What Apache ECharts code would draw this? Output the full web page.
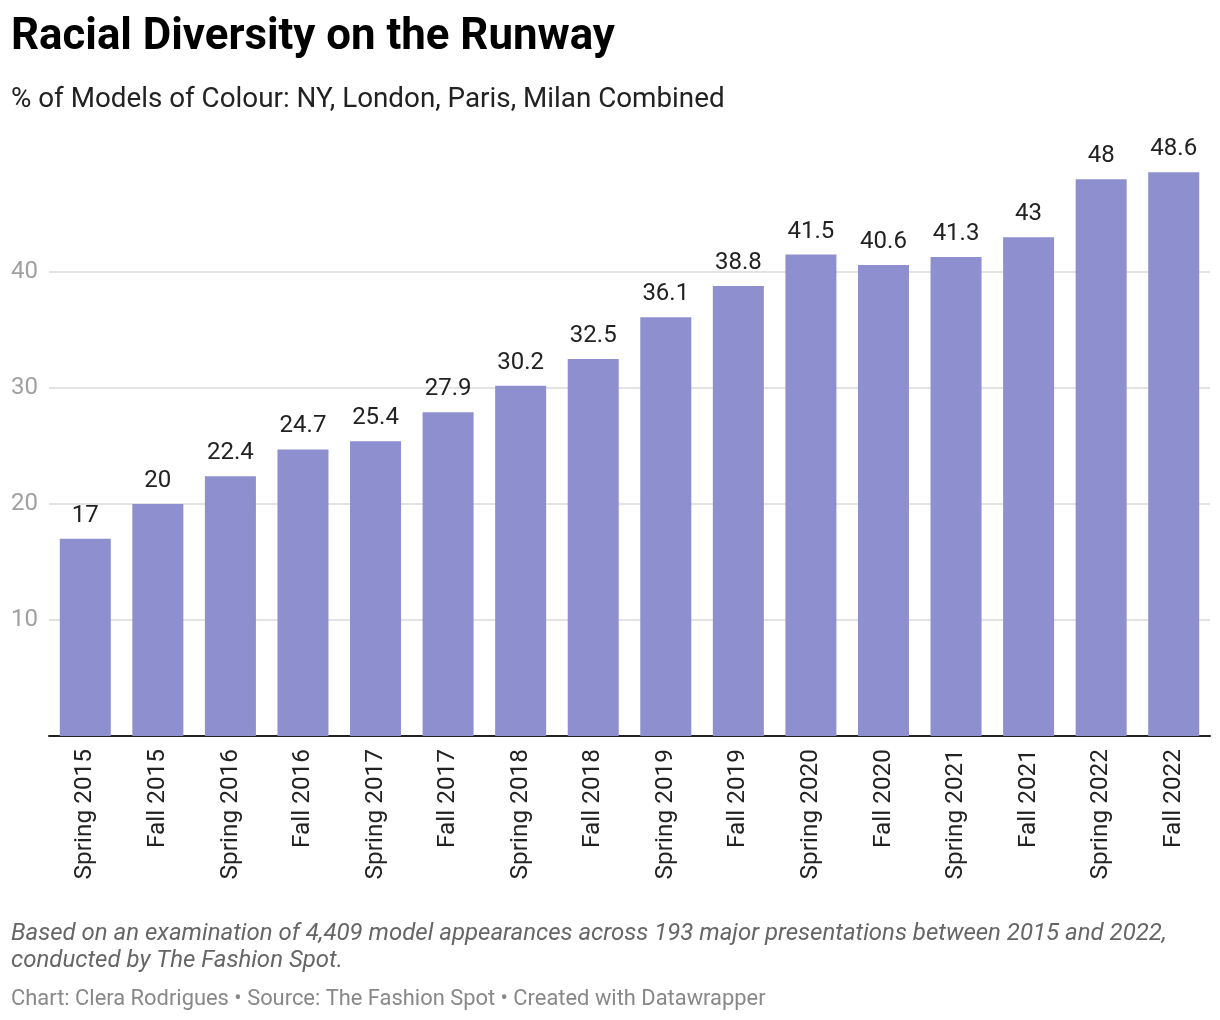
<!DOCTYPE html>
<html><head><meta charset="utf-8">
<script src="https://cdn.jsdelivr.net/npm/echarts@6/dist/echarts.min.js"></script>
<style>html,body{margin:0;padding:0;background:#fff}#c{width:1220px;height:1020px}</style>
</head><body><div id="c"></div>
<script>
const categories = ["Spring 2015","Fall 2015","Spring 2016","Fall 2016","Spring 2017","Fall 2017","Spring 2018","Fall 2018","Spring 2019","Fall 2019","Spring 2020","Fall 2020","Spring 2021","Fall 2021","Spring 2022","Fall 2022"];
const values = [17,20,22.4,24.7,25.4,27.9,30.2,32.5,36.1,38.8,41.5,40.6,41.3,43,48,48.6];
const titleText = "Racial Diversity on the Runway";
const subtitleText = "% of Models of Colour: NY, London, Paris, Milan Combined";
const noteLines = ["Based on an examination of 4,409 model appearances across 193 major presentations between 2015 and 2022,","conducted by The Fashion Spot."];
const creditText = "Chart: Clera Rodrigues • Source: The Fashion Spot • Created with Datawrapper";

const chart = echarts.init(document.getElementById('c'));
chart.setOption({
  backgroundColor:'#fff',
  textStyle:{fontFamily:'Roboto'},
  title:[
    {text:titleText,left:11,top:16,padding:0,textStyle:{fontFamily:'Roboto',fontWeight:'bold',fontSize:43.8,color:'#000'}},
    {text:subtitleText,left:11,top:86,padding:0,textStyle:{fontFamily:'Roboto',fontWeight:'normal',fontSize:27.8,color:'#222'}},
    {text:noteLines.join('\n'),left:11,top:921,padding:0,textStyle:{fontFamily:'Roboto',fontStyle:'italic',fontWeight:'normal',fontSize:24,lineHeight:26.5,color:'#666'}},
    {text:creditText,left:11,top:989,padding:0,textStyle:{fontFamily:'Roboto',fontWeight:'normal',fontSize:21.9,color:'#888'}}
  ],
  grid:{left:49,right:10,top:156,bottom:284,containLabel:false},
  xAxis:{type:'category',data:categories,
    axisLine:{lineStyle:{color:'#222',width:2}},axisTick:{show:false},
    axisLabel:{rotate:90,interval:0,margin:13,fontSize:24.4,color:'#222',fontFamily:'Roboto'}},
  yAxis:{type:'value',min:0,max:50,interval:10,
    axisLine:{show:false},axisTick:{show:false},
    axisLabel:{showMinLabel:false,showMaxLabel:false,margin:11,fontSize:24,color:'#a0a0a0',fontFamily:'Roboto'},
    splitLine:{showMinLine:false,showMaxLine:false,lineStyle:{color:'#e3e3e3',width:2}}},
  series:[{type:'bar',data:values,barCategoryGap:'29.7%',
    itemStyle:{color:'#8e8fcf'},
    label:{show:true,position:'top',distance:11,fontSize:24,color:'#222',fontFamily:'Roboto'}}]
});
</script></body></html>
